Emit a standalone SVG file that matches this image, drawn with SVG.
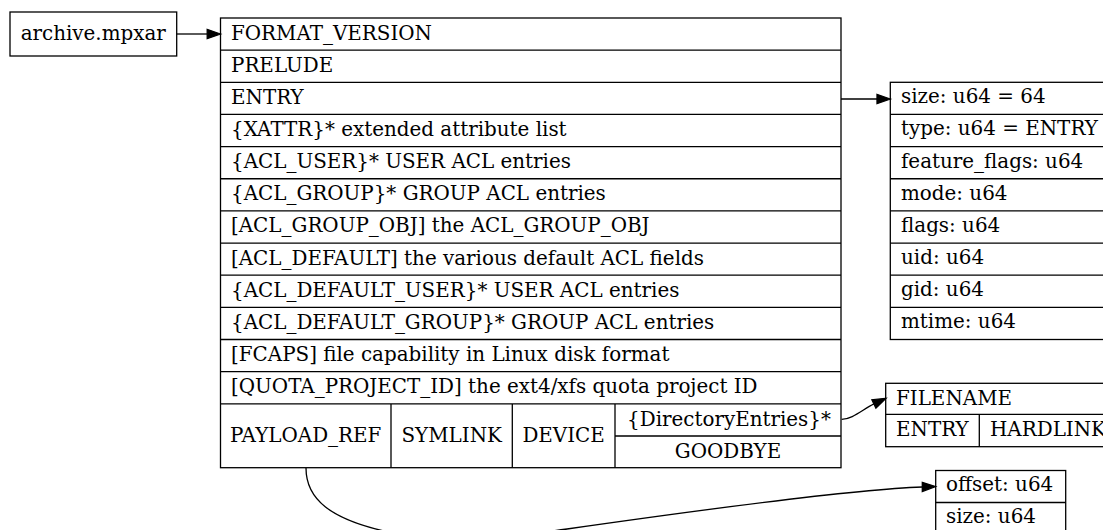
<svg xmlns="http://www.w3.org/2000/svg" width="1103" height="530" viewBox="0 0 1103 530">
<style>
.box{fill:#fff;stroke:#000;stroke-width:1.3}
.ln{stroke:#000;stroke-width:1.3;fill:none}
.edge{stroke:#000;stroke-width:1.3;fill:none}
.head{fill:#000;stroke:#000;stroke-width:1.3}
text{font-family:"DejaVu Serif","Liberation Serif",serif;font-size:19.9px;fill:#000}
.c{text-anchor:middle}
</style>
<rect width="1103" height="530" fill="#fff"/>
<g id="archive">
<rect class="box" x="10" y="12" width="166.7" height="44"/>
<text x="20.7" y="39.5">archive.mpxar</text>
</g>
<g id="mpxar">
<rect class="box" x="220.5" y="18" width="620.5" height="449.7"/>
<path class="ln" d="M220.5,50.15H841M220.5,82.3H841M220.5,114.45H841M220.5,146.6H841M220.5,178.75H841M220.5,210.9H841M220.5,243.05H841M220.5,275.2H841M220.5,307.35H841M220.5,339.5H841M220.5,371.65H841M220.5,403.8H841M391,403.8V467.7M512.3,403.8V467.7M615,403.8V467.7M615,436H841"/>
<text x="231" y="39.5">FORMAT_VERSION</text>
<text x="231" y="71.65">PRELUDE</text>
<text x="231" y="103.8">ENTRY</text>
<text x="231" y="135.95">{XATTR}* extended attribute list</text>
<text x="231" y="168.1">{ACL_USER}* USER ACL entries</text>
<text x="231" y="200.25">{ACL_GROUP}* GROUP ACL entries</text>
<text x="231" y="232.4">[ACL_GROUP_OBJ] the ACL_GROUP_OBJ</text>
<text x="231" y="264.55">[ACL_DEFAULT] the various default ACL fields</text>
<text x="231" y="296.7">{ACL_DEFAULT_USER}* USER ACL entries</text>
<text x="231" y="328.85">{ACL_DEFAULT_GROUP}* GROUP ACL entries</text>
<text x="231" y="361">[FCAPS] file capability in Linux disk format</text>
<text x="231" y="393.15">[QUOTA_PROJECT_ID] the ext4/xfs quota project ID</text>
<text class="c" x="305.7" y="441.5">PAYLOAD_REF</text>
<text class="c" x="451.7" y="441.5">SYMLINK</text>
<text class="c" x="563.6" y="441.5">DEVICE</text>
<text class="c" x="729" y="425.5">{DirectoryEntries}*</text>
<text class="c" x="728" y="457.5">GOODBYE</text>
</g>
<g id="entry">
<rect class="box" x="890.3" y="82.3" width="230" height="257.2"/>
<path class="ln" d="M890.3,114.45H1120.3M890.3,146.6H1120.3M890.3,178.75H1120.3M890.3,210.9H1120.3M890.3,243.05H1120.3M890.3,275.2H1120.3M890.3,307.35H1120.3"/>
<text x="901" y="103.3">size: u64 = 64</text>
<text x="901" y="135.45">type: u64 = ENTRY</text>
<text x="901" y="167.6">feature_flags: u64</text>
<text x="901" y="199.75">mode: u64</text>
<text x="901" y="231.9">flags: u64</text>
<text x="901" y="264.05">uid: u64</text>
<text x="901" y="296.2">gid: u64</text>
<text x="901" y="328.35">mtime: u64</text>
</g>
<g id="dirent">
<rect class="box" x="885.7" y="383.3" width="230" height="63.4"/>
<path class="ln" d="M885.7,414.3H1115.7M979.3,414.3V446.7"/>
<text x="896" y="404.5">FILENAME</text>
<text x="896" y="435.7">ENTRY</text>
<text x="990" y="435.7">HARDLINK</text>
</g>
<g id="payload">
<rect class="box" x="935.7" y="470.5" width="130" height="64"/>
<path class="ln" d="M935.7,502.5H1065.7"/>
<text x="946" y="491">offset: u64</text>
<text x="946" y="523.3">size: u64</text>
</g>
<g id="connectors">
<path class="edge" d="M176.7,34H207.2"/>
<polygon class="head" points="220.5,34 207.2,29.3 207.2,38.7"/>
<path class="edge" d="M841,99H877"/>
<polygon class="head" points="890.3,99 877,94.3 877,103.7"/>
<path class="edge" d="M841.7,419.3C852,419.3 862,410 873.9,403.9"/>
<polygon class="head" points="886,398.3 875.9,408.1 871.9,399.7"/>
<path class="edge" d="M306,468C306,500 332,519 384,531C424,540 520,536 567,529C700,510 860,489 922.3,487"/>
<polygon class="head" points="935.6,486.6 922.3,482.3 922.3,491.6"/>
</g>
</svg>
